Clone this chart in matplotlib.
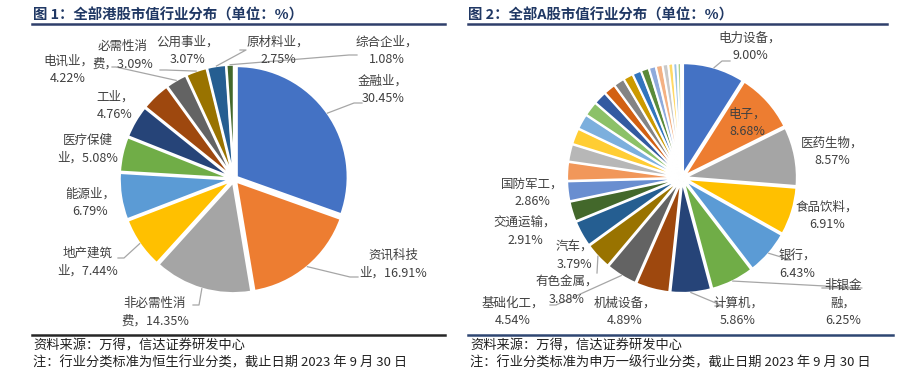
import numpy as np
import matplotlib
matplotlib.use("Agg")
import matplotlib.pyplot as plt
from matplotlib.lines import Line2D

plt.rcParams['font.family'] = ['Noto Sans CJK SC', 'DejaVu Sans']

# ---------------- data ----------------
hk_categories = ["金融业", "资讯科技业", "非必需性消费", "地产建筑业", "能源业", "医疗保健业",
                 "工业", "电讯业", "必需性消费", "公用事业", "原材料业", "综合企业"]
hk_values = [30.45, 16.91, 14.35, 7.44, 6.79, 5.08, 4.76, 4.22, 3.09, 3.07, 2.75, 1.08]
hk_label_text = ["金融业，\n30.45%", "资讯科技\n业，16.91%", "非必需性消\n费，14.35%", "地产建筑\n业，7.44%",
                 "能源业，\n6.79%", "医疗保健\n业，5.08%", "工业，\n4.76%", "电讯业，\n4.22%",
                 "必需性消\n费，3.09%", "公用事业，\n3.07%", "原材料业，\n2.75%", "综合企业，\n1.08%"]

a_categories = ["电力设备", "电子", "医药生物", "食品饮料", "银行", "非银金融", "计算机", "机械设备",
                "基础化工", "有色金属", "汽车", "交通运输", "国防军工",
                "公用事业", "通信", "石油石化", "家用电器", "传媒", "建筑装饰", "煤炭", "房地产",
                "农林牧渔", "钢铁", "轻工制造", "建筑材料", "商贸零售", "环保", "纺织服饰",
                "社会服务", "美容护理", "综合"]
a_values = [9.00, 8.68, 8.57, 6.91, 6.43, 6.25, 5.86, 4.89, 4.54, 3.88, 3.79, 2.91, 2.86,
            2.70, 2.50, 2.30, 2.20, 2.10, 1.90, 1.70, 1.55, 1.40, 1.25, 1.15, 1.00, 0.95,
            0.80, 0.70, 0.60, 0.50, 0.13]
a_label_text = ["电力设备，\n9.00%", "电子，\n8.68%", "医药生物，\n8.57%", "食品饮料，\n6.91%",
                "银行，\n6.43%", "非银金\n融，\n6.25%", "计算机，\n5.86%", "机械设备，\n4.89%",
                "基础化工，\n4.54%", "有色金属，\n3.88%", "汽车，\n3.79%", "交通运输，\n2.91%",
                "国防军工，\n2.86%"]

palette = ["#4472C4", "#ED7D31", "#A5A5A5", "#FFC000", "#5B9BD5", "#70AD47",
           "#264478", "#9E480E", "#636363", "#997300", "#255E91", "#43682B",
           "#698ED0", "#F1975A", "#B7B7B7", "#FFCD33", "#7CAFDD", "#8CC168",
           "#335AA1", "#D26012", "#848484", "#CC9A00", "#3275BE", "#5A8A39",
           "#8FAADC", "#F4B183", "#C9C9C9", "#FFD966", "#9DC3E6", "#A9D18E", "#2F5597"]

# ---------------- layout (pixels) ----------------
W, H = 922, 376
fig = plt.figure(figsize=(W / 100, H / 100), dpi=100)

def fx(x):
    return x / W

def fy(y):
    return 1 - y / H

TEXT = "#404040"
LEADER = "#A6A6A6"
NAVY = "#203864"

def make_pie_ax(cx, cy, r):
    k = 1.25
    ax = fig.add_axes([fx(cx - k * r), fy(cy + k * r), 2 * k * r / W, 2 * k * r / H])
    return ax, k

def pie(ax, k, values, colors, explode, lw):
    wedges, _ = ax.pie(values, colors=colors, startangle=90, counterclock=False,
                       explode=[explode] * len(values),
                       wedgeprops=dict(edgecolor="white", linewidth=lw))
    ax.set_xlim(-k, k)
    ax.set_ylim(-k, k)
    ax.set_aspect("auto")
    ax.axis("off")
    return wedges

def wedge_point_px(ax, w, rfrac=1.0):
    mid = np.deg2rad((w.theta1 + w.theta2) / 2)
    cx, cy = w.center
    p = (cx + w.r * rfrac * np.cos(mid), cy + w.r * rfrac * np.sin(mid))
    d = ax.transData.transform(p)
    return d[0], H - d[1]

def leader(ax, w, end, elbow_dx):
    px, py = wedge_point_px(ax, w)
    ex, ey = end
    xs = [px, ex - elbow_dx, ex]
    ys = [py, ey, ey]
    fig.add_artist(Line2D([fx(x) for x in xs], [fy(y) for y in ys],
                          transform=fig.transFigure, color=LEADER, lw=0.9))

def label(x, y, s):
    fig.text(fx(x), fy(y), s, ha="center", va="center", ma="center",
             fontsize=9, color=TEXT, linespacing=1.45)

# ---------------- Figure 1: HK ----------------
ax1, k1 = make_pie_ax(234, 179, 111)
w1 = pie(ax1, k1, hk_values, palette[:len(hk_values)], 0.03, 1.6)

hk_pos = [(383, 90), (393, 264), (155, 312), (88, 262), (90, 203), (88, 149),
          (115, 106), (68, 70), (123, 55), (188, 51), (278, 51), (387, 51)]
for (x, y), s in zip(hk_pos, hk_label_text):
    label(x, y, s)

hk_leaders = {0: ((362, 103), 8), 1: ((358, 277), 8), 2: ((193, 305), -6),
              3: ((118, 258), -6), 8: ((112, 67), -4), 9: ((160, 70), -6),
              10: ((240, 50), -6), 11: ((357, 55), 8)}
for i, (end, dx) in hk_leaders.items():
    leader(ax1, w1[i], end, dx)

# ---------------- Figure 2: A-share ----------------
ax2, k2 = make_pie_ax(682, 178, 111)
w2 = pie(ax2, k2, a_values, palette[:len(a_values)], 0.035, 1.4)

a_pos = [(750, 47), (747, 123), (832, 152), (827, 216), (797, 265), (843, 303),
         (738, 312), (625, 312), (513, 312), (567, 291), (574, 256), (525, 232), (532, 193)]
for (x, y), s in zip(a_pos, a_label_text):
    label(x, y, s)

a_leaders = {0: ((730, 61), 8), 4: ((785, 260), -6), 5: ((822, 288), -40),
             6: ((715, 306), -8), 8: ((550, 305), -6), 9: ((597, 273), 0)}
for i, (end, dx) in a_leaders.items():
    leader(ax2, w2[i], end, dx)

# ---------------- titles & rules ----------------
fig.text(fx(33), fy(15), "图 1：全部港股市值行业分布（单位：%）", ha="left", va="center",
         fontsize=10.4, fontweight="bold", color=NAVY)
fig.text(fx(468), fy(15), "图 2：全部A股市值行业分布（单位：%）", ha="left", va="center",
         fontsize=10.4, fontweight="bold", color=NAVY)

for x0, x1, y, c in [(32, 445, 24, "#2F3F6B"), (468, 887, 24, "#2F3F6B"),
                     (32, 445, 335, "#262626"), (468, 893, 335, "#2E4672")]:
    fig.add_artist(Line2D([fx(x0), fx(x1)], [fy(y), fy(y)], transform=fig.transFigure,
                          color=c, lw=1.8))

src = "资料来源：万得，信达证券研发中心"
fig.text(fx(33), fy(346), src, ha="left", va="center", fontsize=9.5, color="#222222", style="italic")
fig.text(fx(33), fy(363), "注：行业分类标准为恒生行业分类，截止日期 2023 年 9 月 30 日",
         ha="left", va="center", fontsize=9.5, color="#222222", style="italic")
fig.text(fx(470), fy(346), src, ha="left", va="center", fontsize=9.5, color="#222222", style="italic")
fig.text(fx(470), fy(363), "注：行业分类标准为申万一级行业分类，截止日期 2023 年 9 月 30 日",
         ha="left", va="center", fontsize=9.5, color="#222222", style="italic")

fig.savefig("out.png", dpi=100)
